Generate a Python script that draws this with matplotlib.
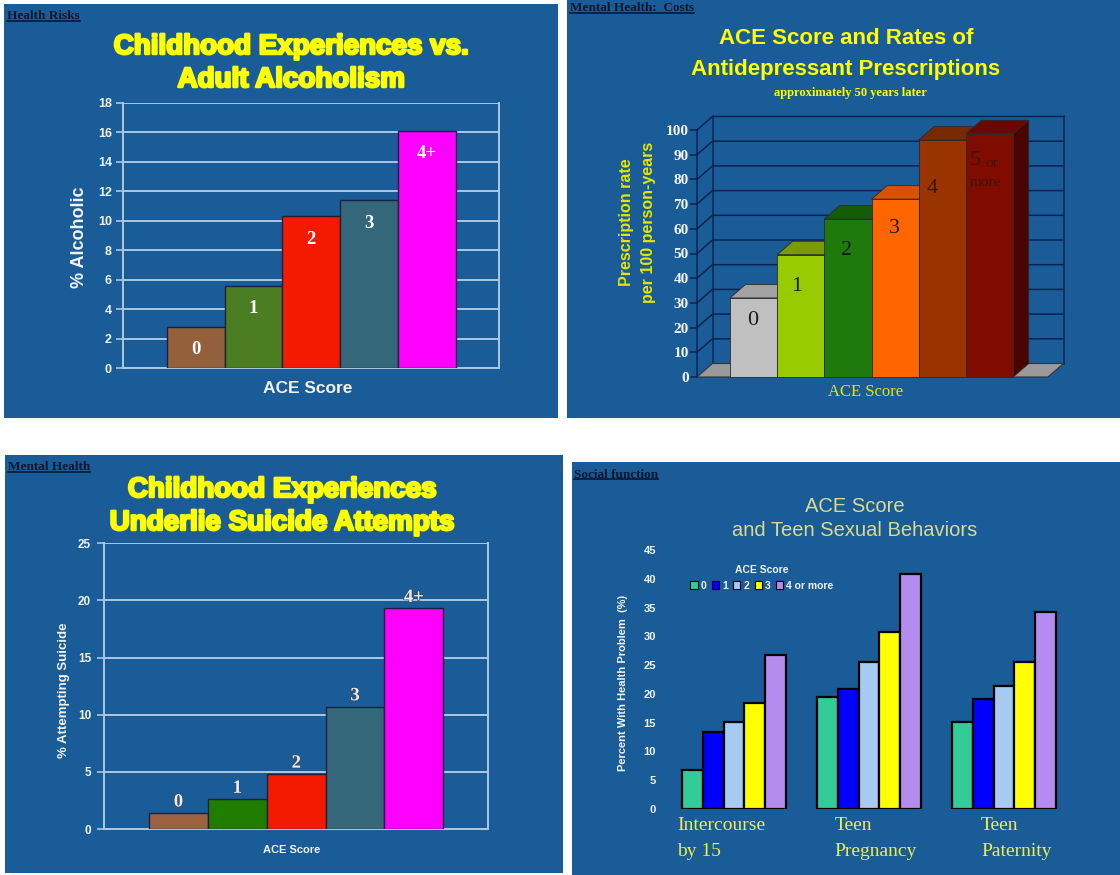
import numpy as np
import matplotlib.pyplot as plt
import matplotlib.patheffects as pe
from matplotlib.patches import Rectangle, Polygon
from matplotlib.lines import Line2D

W, H = 1120, 875
BLUE = '#1a5c97'
YEL = '#ffff00'
GRID = '#aec8de'

# top left: alcoholism
alc_labels = ['0', '1', '2', '3', '4+']
alc_vals = [2.8, 5.6, 10.3, 11.4, 16.1]
alc_colors = ['#94603c', '#4b7d22', '#f41a00', '#35677a', '#ff00ff']

# top right: antidepressant prescriptions
rx_labels = ['0', '1', '2', '3', '4', '5']
rx_vals = [32, 49.5, 64, 72, 96, 98.5]
rx_front = ['#c0c0c0', '#99cc00', '#1f7a0c', '#ff6600', '#993300', '#800c00']
rx_top = ['#a2a2a2', '#7a9c00', '#165c08', '#d95200', '#7a2800', '#6a0800']
rx_side = ['#909090', '#6a8a00', '#104a05', '#b84400', '#5e1f00', '#4a0400']

# bottom left: suicide attempts
sui_labels = ['0', '1', '2', '3', '4+']
sui_vals = [1.4, 2.6, 4.8, 10.7, 19.3]
sui_colors = ['#9a6241', '#1f7d00', '#f41a00', '#35677a', '#ff00ff']

# bottom right: teen sexual behaviours
teen_cats = ['Intercourse\nby 15', 'Teen\nPregnancy', 'Teen\nPaternity']
teen_scores = ['0', '1', '2', '3', '4 or more']
intercourse = [6.8, 13.3, 15.1, 18.5, 26.8]
pregnancy = [19.4, 20.8, 25.5, 30.8, 40.8]
paternity = [15.1, 19.1, 21.4, 25.5, 34.2]
teen_colors = ['#33cc99', '#0000ff', '#a6caf0', '#ffff00', '#b48cf0']

fig = plt.figure(figsize=(W / 100, H / 100), dpi=100)
fig.patch.set_facecolor('white')
heads = []


def px_axes(x0, y0, x1, y1):
    ax = fig.add_axes([x0 / W, 1 - y1 / H, (x1 - x0) / W, (y1 - y0) / H])
    ax.set_facecolor('none')
    return ax


def ftext(x, y, s, **kw):
    return fig.text(x / W, 1 - y / H, s, **kw)


def panel(x0, y0, x1, y1, head, hx, hy):
    fig.add_artist(Rectangle((x0 / W, 1 - y1 / H), (x1 - x0) / W, (y1 - y0) / H,
                             transform=fig.transFigure, fc=BLUE, ec='none', zorder=-5))
    heads.append(ftext(hx, hy, head, family='Liberation Serif', weight='bold',
                       size=9.5, color='#0b1630', va='center'))


heavy = dict(family='Liberation Sans', weight='bold', color=YEL, ha='center', va='center',
             path_effects=[pe.withStroke(linewidth=1.8, foreground=YEL)])
bold_w = dict(family='Liberation Sans', weight='bold', color='#f2f2f2', ha='center', va='center')


def flat_bars(ax, vals, labels, colors, ymax, step, lab_dy, lab_col, tsize, tpad):
    x = np.arange(len(vals))
    ax.bar(x, vals, width=1.0, color=colors, edgecolor='#1b2040', linewidth=1.0, zorder=3)
    ax.set_xlim(-1.26, 5.25)
    ax.set_ylim(0, ymax)
    ax.set_yticks(np.arange(0, ymax + 1, step))
    ax.set_xticks([])
    ax.grid(axis='y', color=GRID, lw=1.4, zorder=0)
    ax.set_axisbelow(True)
    for s in ['left', 'bottom', 'right']:
        ax.spines[s].set_color(GRID)
        ax.spines[s].set_linewidth(1.4)
    ax.spines['top'].set_visible(False)
    ax.tick_params(axis='y', colors=GRID, length=5, width=1.2, labelcolor='#f2f2f2',
                   labelsize=tsize, pad=tpad)
    for t in ax.get_yticklabels():
        t.set_fontweight('bold')
        t.set_family('Liberation Sans')
    for xi, v, lab in zip(x, vals, labels):
        ax.annotate(lab, (xi, v), xytext=(0, lab_dy), textcoords='offset pixels',
                    ha='center', va='center', family='Liberation Serif', weight='bold',
                    size=13.5, color=lab_col, zorder=5,
                    path_effects=[pe.withStroke(linewidth=1.0, foreground='#3a4a60')]
                    if lab_dy > 0 else None)


# ---------------- panel 1
panel(4, 4, 558, 418, 'Health Risks', 7, 16)
ftext(291, 47, 'Childhood Experiences vs.', size=20, **heavy)
ftext(291, 80, 'Adult Alcoholism', size=20, **heavy)
ax1 = px_axes(123, 102.7, 499, 368.3)
flat_bars(ax1, alc_vals, alc_labels, alc_colors, 18, 2, -23, 'white', 9, 3)
ftext(80, 237, '% Alcoholic', rotation=90, size=13, **bold_w)
ftext(308, 388, 'ACE Score', size=12.5, **bold_w)

# ---------------- panel 3
panel(5, 455, 563, 873, 'Mental Health', 8, 467)
ftext(282, 490, 'Childhood Experiences', size=20, **heavy)
ftext(282, 523, 'Underlie Suicide Attempts', size=20, **heavy)
ax3 = px_axes(104.3, 543.3, 487.5, 829)
flat_bars(ax3, sui_vals, sui_labels, sui_colors, 25, 5, 11, '#ececec', 8.5, 4.5)
ftext(64, 690, '% Attempting Suicide', rotation=90, size=9.5, **bold_w)
ftext(292, 850, 'ACE Score', size=8, **bold_w)

# ---------------- panel 2 (pseudo 3d)
panel(567, 0, 1120, 418, 'Mental Health:  Costs', 570, 8)
ftext(846, 39, 'ACE Score and Rates of', size=16, family='Liberation Sans',
      weight='bold', color=YEL, ha='center', va='center')
ftext(846, 70, 'Antidepressant Prescriptions', size=16, family='Liberation Sans',
      weight='bold', color=YEL, ha='center', va='center')
ftext(850, 93, 'approximately 50 years later', size=9, family='Liberation Serif',
      weight='bold', color=YEL, ha='center', va='center')
ylab = dict(family='Liberation Sans', weight='bold', color='#e6e600', ha='center',
            va='center', rotation=90, size=11.5)
ftext(627, 222, 'Prescription rate', **ylab)
ftext(648, 222, 'per 100 person-years', **ylab)
ftext(866, 392, 'ACE Score', size=12, family='Liberation Serif', color='#e6e600',
      ha='center', va='center')

WALL = '#0c2350'
EDGE = '#2a2a2a'
ax2 = px_axes(697, 116, 1064, 384)
x_left, x_right = (697 - 730) / 47.2, (1064 - 730) / 47.2
ax2.set_xlim(x_left, x_right)
ax2.set_ylim((377 - 384) / 2.47, (377 - 116) / 2.47)
ddx, ddy = 15.5 / 47.2, 13.5 / 2.47
floor_r = (1048 - 730) / 47.2
bx0, bx1 = x_left + ddx, floor_r + ddx
for v in range(10, 101, 10):
    ax2.plot([x_left, bx0, bx1], [v, v + ddy, v + ddy], color=WALL, lw=1.1, zorder=1,
             clip_on=False)
for bx in (bx0, bx1):
    ax2.plot([bx, bx], [ddy, 100 + ddy], color=WALL, lw=1.1, zorder=1, clip_on=False)
ax2.add_patch(Polygon([(x_left, 0), (floor_r, 0), (bx1, ddy), (bx0, ddy)], fc='#9a9a9a',
                      ec='#333333', lw=0.8, zorder=2, clip_on=False))
for i, v in enumerate(rx_vals):
    x0, x1 = i, i + 1
    z = 3 + i
    ax2.add_patch(Polygon([(x1, 0), (x1 + ddx, ddy), (x1 + ddx, v + ddy), (x1, v)],
                          fc=rx_side[i], ec=EDGE, lw=0.6, zorder=z, clip_on=False))
    ax2.add_patch(Polygon([(x0, v), (x1, v), (x1 + ddx, v + ddy), (x0 + ddx, v + ddy)],
                          fc=rx_top[i], ec=EDGE, lw=0.6, zorder=z, clip_on=False))
    ax2.add_patch(Rectangle((x0, 0), 1, v, fc=rx_front[i], ec=EDGE, lw=0.6, zorder=z,
                            clip_on=False))
lab_dx = [-1, -4, -1, -1, -10, -14]
lab_dy = [-23, -32, -32, -29, -49, -27]
lab_col = ['#1a1a1a', '#1a1a1a', '#1a1a1a', '#1a1a1a', '#3c1600', '#3e1410']
for i, v in enumerate(rx_vals):
    ax2.annotate(rx_labels[i], (i + 0.5, v), xytext=(lab_dx[i], lab_dy[i]),
                 textcoords='offset pixels', ha='center', va='center',
                 family='Liberation Serif', size=16, color=lab_col[i], zorder=20)
ax2.annotate('or', (5.5, rx_vals[5]), xytext=(2, -30), textcoords='offset pixels',
             ha='center', va='center', family='Liberation Serif', size=11,
             color=lab_col[5], zorder=20)
ax2.annotate('more', (5.5, rx_vals[5]), xytext=(-4, -49), textcoords='offset pixels',
             ha='center', va='center', family='Liberation Serif', size=11,
             color=lab_col[5], zorder=20)
for s in ['top', 'right', 'bottom']:
    ax2.spines[s].set_visible(False)
ax2.spines['left'].set_bounds(0, 100)
ax2.spines['left'].set_color(WALL)
ax2.spines['left'].set_linewidth(1.1)
ax2.set_xticks([])
ax2.set_yticks(range(0, 101, 10))
ax2.tick_params(axis='y', colors=WALL, length=5, width=1.1, labelcolor='#f4f4f4',
                labelsize=11, pad=1)
for t in ax2.get_yticklabels():
    t.set_fontweight('bold')
    t.set_family('Liberation Serif')

# ---------------- panel 4
panel(572, 462, 1120, 875, 'Social function', 574, 475)
ttl = dict(family='Liberation Sans', color='#d9d98f', ha='center', va='center', size=14.5)
ftext(855, 507, 'ACE Score', **ttl)
ftext(855, 531, 'and Teen Sexual Behaviors', **ttl)
ftext(623, 683, 'Percent With Health Problem  (%)', rotation=90, size=8, **bold_w)

ax4 = px_axes(662, 550, 1070, 809)
ax4.set_xlim(-0.533, 2.489)
ax4.set_ylim(0, 45)
bw = 20.9 / 135
xg = np.arange(len(teen_cats))
handles = []
for j in range(len(teen_scores)):
    vals = [intercourse[j], pregnancy[j], paternity[j]]
    ax4.bar(xg + (j - 2) * bw, vals, bw, color=teen_colors[j], edgecolor='black', lw=1.6,
            zorder=3)
    handles.append(Rectangle((0, 0), 1, 1, fc=teen_colors[j], ec='black', lw=0.8))
for s in ax4.spines.values():
    s.set_visible(False)
ax4.set_xticks([])
ax4.set_yticks(range(0, 46, 5))
ax4.tick_params(axis='y', length=0, pad=4.3, labelcolor='#f2f2f2', labelsize=8)
for t in ax4.get_yticklabels():
    t.set_fontweight('bold')
    t.set_family('Liberation Sans')
cat_x = [-0.418, 0.746, 1.83]
for cx, cat in zip(cat_x, teen_cats):
    for k, line in enumerate(cat.split('\n')):
        ax4.text(cx, -2.95 - 4.35 * k, line, ha='left', va='center', family='Liberation Serif',
                 size=14, color='#f0f040', clip_on=False)
leg = ax4.legend(handles, teen_scores, ncol=5, title='ACE Score', loc='center',
                 bbox_to_anchor=(762 / W, 1 - 578 / H), bbox_transform=fig.transFigure,
                 frameon=False, prop={'family': 'Liberation Sans', 'weight': 'bold', 'size': 7.5},
                 handlelength=0.7, handleheight=0.7, handletextpad=0.3, columnspacing=0.5,
                 labelcolor='#f2f2f2', borderpad=0.2)
leg.get_title().set_color('#f2f2f2')
leg.get_title().set_fontweight('bold')
leg.get_title().set_family('Liberation Sans')
leg.get_title().set_fontsize(7.5)

# underline the slide headers
fig.canvas.draw()
for t in heads:
    bb = t.get_window_extent()
    fig.add_artist(Line2D([bb.x0 / W, bb.x1 / W], [(bb.y0 + 1.5) / H] * 2,
                          transform=fig.transFigure, color='#0b1630', lw=1.2))

fig.savefig('out.png', dpi=100, facecolor='white')
